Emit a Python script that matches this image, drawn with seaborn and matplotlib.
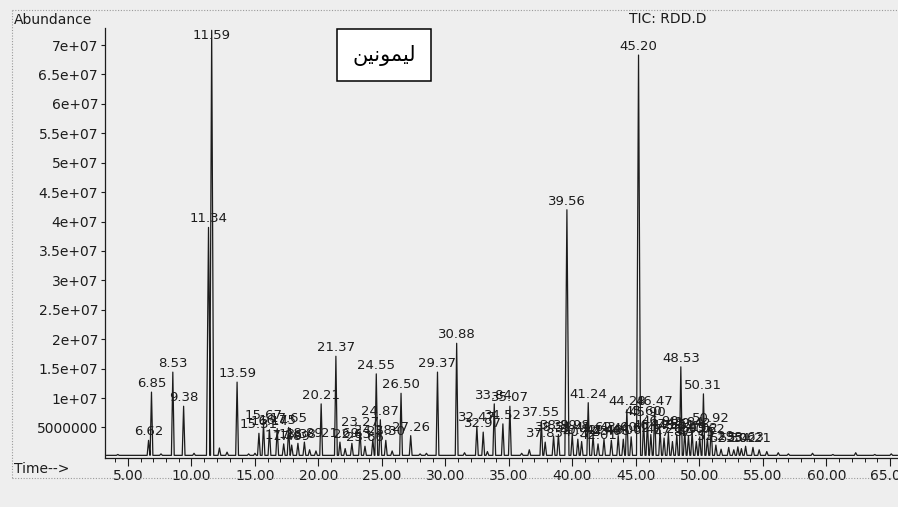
import numpy as np
import pandas as pd
import seaborn as sns
import matplotlib.pyplot as plt
from matplotlib.lines import Line2D
from matplotlib.ticker import FixedLocator, FixedFormatter, MultipleLocator

# Labelled peaks: retention time (min) and apex abundance
peak_times = [6.62, 6.85, 8.53, 9.38, 11.34, 11.59, 13.59, 15.31, 15.67, 16.14,
              16.75, 17.26, 17.65, 17.89, 18.38, 18.89, 20.21, 21.37, 21.69, 22.63,
              23.27, 23.66, 24.28, 24.55, 24.87, 25.30, 26.50, 27.26, 29.37, 30.88,
              32.47, 32.97, 33.84, 34.52, 35.07, 37.55, 37.85, 38.51, 38.89, 39.56,
              39.98, 40.42, 40.72, 41.24, 41.62, 42.01, 42.48, 43.06, 43.60, 44.00,
              44.28, 44.62, 45.20, 45.60, 45.90, 46.17, 46.47, 46.90, 47.21, 47.55,
              47.87, 48.21, 48.53, 48.84, 49.13, 49.42, 49.75, 50.02, 50.31, 50.62,
              50.92, 51.29, 52.30, 53.02, 53.63, 54.21]
peak_heights = [2.8e6, 11.0e6, 14.4e6, 8.6e6, 39.0e6, 72.5e6, 12.7e6, 4.0e6, 5.6e6, 4.6e6,
                4.8e6, 2.2e6, 5.0e6, 2.0e6, 2.3e6, 2.5e6, 9.0e6, 17.1e6, 2.5e6, 2.3e6,
                4.4e6, 1.8e6, 3.0e6, 14.1e6, 6.3e6, 2.8e6, 10.8e6, 3.6e6, 14.4e6, 19.3e6,
                5.2e6, 4.2e6, 9.0e6, 5.6e6, 8.6e6, 6.0e6, 2.5e6, 3.5e6, 3.8e6, 42.0e6,
                3.8e6, 3.0e6, 2.6e6, 9.2e6, 3.6e6, 2.2e6, 3.0e6, 2.8e6, 3.6e6, 3.0e6,
                8.0e6, 3.4e6, 68.3e6, 6.2e6, 6.0e6, 3.8e6, 8.0e6, 4.5e6, 3.2e6, 4.0e6,
                2.6e6, 3.8e6, 15.3e6, 4.4e6, 3.6e6, 4.2e6, 2.6e6, 3.4e6, 10.7e6, 3.2e6,
                5.0e6, 2.0e6, 1.6e6, 1.7e6, 1.8e6, 1.6e6]

# Small unlabelled baseline bumps
minor_times = [4.2, 7.6, 10.2, 12.2, 12.8, 14.5, 15.0, 19.3, 19.8, 22.1, 25.8, 28.0,
               28.5, 31.5, 33.3, 36.0, 36.6, 51.7, 52.7, 53.3, 54.7, 55.3, 56.2,
               57.0, 58.9, 60.5, 62.3, 63.8, 65.1]
minor_heights = [0.4e6, 0.5e6, 0.6e6, 1.5e6, 0.8e6, 0.5e6, 0.6e6, 1.2e6, 1.0e6, 1.4e6,
                 1.0e6, 0.5e6, 0.6e6, 0.7e6, 0.9e6, 0.6e6, 1.2e6, 1.3e6, 1.2e6,
                 1.4e6, 1.2e6, 0.9e6, 0.7e6, 0.5e6, 0.6e6, 0.4e6, 0.7e6, 0.4e6, 0.5e6]

y_ticks = [5e6, 1e7, 1.5e7, 2e7, 2.5e7, 3e7, 3.5e7, 4e7, 4.5e7, 5e7, 5.5e7, 6e7, 6.5e7, 7e7]
y_labels = ["5000000", "1e+07", "1.5e+07", "2e+07", "2.5e+07", "3e+07", "3.5e+07",
            "4e+07", "4.5e+07", "5e+07", "5.5e+07", "6e+07", "6.5e+07", "7e+07"]
x_ticks = [5, 10, 15, 20, 25, 30, 35, 40, 45, 50, 55, 60, 65]
x_labels = ["5.00", "10.00", "15.00", "20.00", "25.00", "30.00", "35.00", "40.00",
            "45.00", "50.00", "55.00", "60.00", "65.00"]

compound_label = "\uFEE6\uFEF4\uFEE7\uFEEE\uFEE4\uFEF4\uFEDF"  # ليمونين (pre-shaped)

# build the trace as a polyline of narrow triangles on a flat baseline
base = 0.25e6
all_peaks = sorted(zip(peak_times + minor_times, peak_heights + minor_heights))
xs, ys = [3.3], [base]
for t, h in all_peaks:
    w = 0.16 if h > 20e6 else 0.11
    xs += [t - w, t, t + w]
    ys += [base, h, base]
xs.append(65.6)
ys.append(base)
trace = pd.DataFrame({"time": xs, "abundance": ys})

sns.set_theme(style="ticks")
plt.rcParams["font.family"] = ["DejaVu Sans"]
bg = "#eeeeee"
ink = "#1c1c1c"

fig = plt.figure(figsize=(8.98, 5.07), dpi=100, facecolor=bg)
ax = fig.add_axes([105 / 898, 1 - 458 / 507, (898 - 105) / 898, (458 - 28) / 507])
ax.set_facecolor(bg)

sns.lineplot(data=trace, x="time", y="abundance", sort=False, estimator=None,
             color=ink, linewidth=0.9, ax=ax)

ax.set_xlim(3.19, 65.63)
ax.set_ylim(-0.2e6, 72.9e6)

for t, h in zip(peak_times, peak_heights):
    ly = min(h, 70.2e6)
    ax.annotate(f"{t:.2f}", (t, ly), xytext=(0, 1.5), textcoords="offset points",
                ha="center", va="bottom", fontsize=9.5, color=ink, clip_on=False)

ax.text(25.16, 68.3e6, compound_label, fontsize=15, ha="center", va="center",
        color="black",
        bbox=dict(boxstyle="square,pad=0.75", facecolor="white", edgecolor="black",
                  linewidth=1.1))

ax.yaxis.set_major_locator(FixedLocator(y_ticks))
ax.yaxis.set_major_formatter(FixedFormatter(y_labels))
ax.xaxis.set_major_locator(FixedLocator(x_ticks))
ax.xaxis.set_major_formatter(FixedFormatter(x_labels))
ax.xaxis.set_minor_locator(MultipleLocator(1))
ax.tick_params(axis="y", length=3, width=0.8, pad=2, labelsize=10, colors=ink)
ax.tick_params(axis="x", which="major", length=6, width=0.8, pad=2, labelsize=10,
               colors=ink)
ax.tick_params(axis="x", which="minor", length=3, width=0.7, colors=ink)
ax.set_xlabel("")
ax.set_ylabel("")
for side in ["top", "right"]:
    ax.spines[side].set_visible(False)
for side in ["left", "bottom"]:
    ax.spines[side].set_color(ink)
    ax.spines[side].set_linewidth(0.9)

fig.text(14 / 898, 1 - 20 / 507, "Abundance", fontsize=10, color=ink,
         ha="left", va="center")
fig.text(14 / 898, 1 - 469 / 507, "Time-->", fontsize=10, color=ink,
         ha="left", va="center")
fig.text(668 / 898, 1 - 19 / 507, "TIC: RDD.D", fontsize=10, color=ink,
         ha="center", va="center")

# dotted page frame of the printout
frame = dict(color="#9a9a9a", linewidth=0.8, linestyle=(0, (1, 1.5)),
             transform=fig.transFigure)
fig.add_artist(Line2D([12 / 898, 1], [1 - 10 / 507, 1 - 10 / 507], **frame))
fig.add_artist(Line2D([12 / 898, 12 / 898], [1 - 10 / 507, 1 - 478 / 507], **frame))
fig.add_artist(Line2D([12 / 898, 1], [1 - 478 / 507, 1 - 478 / 507], **frame))

fig.savefig("out.png", dpi=100, facecolor=bg)
